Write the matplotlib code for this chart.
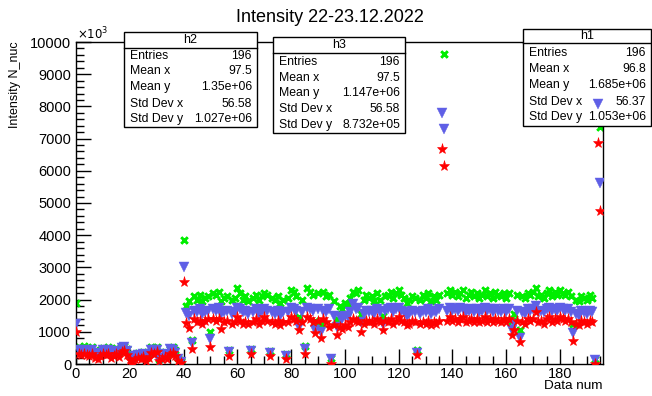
import numpy as np
import matplotlib
matplotlib.use("Agg")
import matplotlib.pyplot as plt
from matplotlib.patches import Rectangle
from matplotlib.lines import Line2D

plt.rcParams['font.family'] = ['Liberation Sans', 'DejaVu Sans']

# 1. Intensity per data point, in units of 10^3 N_nuc
data_num = np.arange(196)

h1_y = [
    1900, 520, 480, 550, 500, 450, 530, 380, 300, 420,
    510, 480, 530, 350, 420, 500, 380, 550, 560, 480,
    250, 40, 300, 350, 280, 380, 200, 320, 520, 500,
    540, 150, 250, 380, 320, 480, 520, 420, 200, 80,
    3850, 1800, 1950, 750, 2100, 2000, 2150, 1950, 2050, 2100,
    1000, 2200, 2150, 2250, 1950, 2050, 2100, 420, 2000, 2050,
    2350, 2200, 2000, 2100, 1950, 480, 2050, 2150, 2000, 2100,
    2200, 2150, 400, 2050, 2000, 2100, 1900, 2000, 300, 2050,
    2300, 2250, 2100, 1450, 2000, 560, 2350, 2250, 2150, 1350,
    2200, 1250, 2250, 2100, 2150, 200, 1950, 1400, 1800, 1700,
    1900, 1850, 2050, 2250, 2200, 2300, 1550, 2000, 2150, 2050,
    2100, 1950, 2200, 2000, 1500, 2100, 2150, 2250, 2050, 2200,
    2300, 2150, 2050, 1900, 2000, 2100, 2050, 420, 2000, 2150,
    2050, 2200, 1950, 2100, 2000, 2150, 10400, 9630, 2200, 2300,
    2150, 2250, 2100, 2200, 2300, 2050, 2150, 2250, 2100, 2200,
    2050, 2150, 2300, 2100, 2200, 2050, 2250, 2150, 2100, 2200,
    2050, 2200, 1350, 1550, 2150, 1050, 2100, 2050, 2200, 2150,
    2250, 2350, 2100, 2150, 2050, 2200, 2300, 2100, 2250, 2150,
    2300, 2200, 2150, 2250, 2100, 1250, 2000, 1950, 2100, 2050,
    2000, 2150, 2050, 150, 10600, 7360,
]

h2_y = [
    1250, 430, 400, 450, 410, 380, 430, 310, 250, 350,
    420, 390, 430, 280, 350, 410, 320, 500, 520, 400,
    200, 30, 250, 290, 230, 320, 160, 270, 450, 430,
    440, 120, 200, 310, 260, 460, 450, 350, 160, 60,
    3000, 1580, 1500, 650, 1650, 1600, 1700, 1550, 1600, 1650,
    780, 1700, 1650, 1750, 1550, 1600, 1650, 370, 1550, 1600,
    1750, 1700, 1600, 1650, 1550, 410, 1600, 1700, 1550, 1650,
    1700, 1650, 330, 1600, 1550, 1650, 1500, 1600, 250, 1600,
    1750, 1700, 1650, 1160, 1600, 460, 1750, 1700, 1650, 1060,
    1700, 1000, 1650, 1600, 1700, 150, 1500, 1150, 1450, 1400,
    1500, 1450, 1600, 1850, 1700, 1750, 1300, 1550, 1650, 1600,
    1650, 1550, 1700, 1600, 1250, 1650, 1700, 1750, 1600, 1700,
    1750, 1650, 1600, 1500, 1550, 1650, 1600, 340, 1550, 1650,
    1600, 1700, 1550, 1650, 1600, 1700, 7790, 7300, 1650, 1750,
    1650, 1700, 1650, 1750, 1700, 1600, 1650, 1700, 1600, 1700,
    1600, 1650, 1750, 1650, 1700, 1600, 1700, 1650, 1600, 1700,
    1600, 1700, 1060, 1250, 1650, 800, 1600, 1550, 1700, 1650,
    1700, 1800, 1600, 1650, 1600, 1700, 1750, 1650, 1700, 1650,
    1750, 1700, 1650, 1700, 1600, 960, 1550, 1500, 1650, 1600,
    1550, 1650, 1600, 110, 8070, 5620,
]

h3_y = [
    1000, 300, 280, 320, 270, 250, 300, 200, 150, 250,
    300, 270, 320, 180, 240, 300, 220, 380, 400, 280,
    130, 10, 170, 200, 150, 230, 100, 180, 330, 300,
    360, 80, 140, 220, 170, 320, 330, 250, 100, 40,
    2550, 1270, 1120, 480, 1400, 1300, 1350, 1250, 1350, 1400,
    540, 1400, 1350, 1400, 1100, 1300, 1350, 250, 1250, 1300,
    1450, 1350, 1250, 1300, 1250, 310, 1300, 1400, 1250, 1350,
    1450, 1350, 250, 1300, 1250, 1350, 1200, 1300, 140, 1300,
    1450, 1400, 1350, 1050, 1300, 310, 1450, 1400, 1300, 950,
    1350, 800, 1400, 1300, 1150, 10, 1200, 900, 1150, 1100,
    1200, 1150, 1300, 1400, 1350, 1300, 1000, 1250, 1350, 1300,
    1350, 1250, 1400, 1300, 1050, 1350, 1300, 1400, 1250, 1350,
    1450, 1350, 1300, 1200, 1250, 1350, 1300, 290, 1250, 1300,
    1250, 1350, 1200, 1300, 1250, 1350, 6680, 6150, 1350, 1450,
    1350, 1400, 1300, 1400, 1450, 1300, 1350, 1400, 1300, 1400,
    1300, 1350, 1450, 1300, 1400, 1300, 1400, 1350, 1300, 1400,
    1300, 1400, 900, 1050, 1350, 690, 1300, 1250, 1400, 1350,
    1400, 1600, 1300, 1350, 1250, 1400, 1450, 1300, 1400, 1350,
    1450, 1400, 1350, 1400, 1300, 720, 1250, 1200, 1350, 1300,
    1250, 1350, 1300, 10, 6860, 4750,
]

# stats box contents
stat_names = ['Entries', 'Mean x', 'Mean y', 'Std Dev x', 'Std Dev y']
h1_stats = ['196', '96.8', '1.685e+06', '56.37', '1.053e+06']
h2_stats = ['196', '97.5', '1.35e+06', '56.58', '1.027e+06']
h3_stats = ['196', '97.5', '1.147e+06', '56.58', '8.732e+05']

# 2. Canvas and frame (pixel layout of a 652x396 canvas)
W, H = 652, 396
fig = plt.figure(figsize=(W / 100, H / 100), dpi=100)
ax = fig.add_axes([76 / W, 1 - 364 / H, (603 - 76) / W, (364 - 42) / H])
ax.set_xlim(0, 196)
ax.set_ylim(0, 10000)

ax.set_xticks(np.arange(0, 181, 20))
ax.set_xticks(np.arange(0, 196, 5), minor=True)
ax.set_yticks(np.arange(0, 10001, 1000))
ax.set_yticks(np.arange(0, 10001, 200), minor=True)
ax.tick_params(which='both', direction='in', top=False, right=False,
               width=1, labelsize=10.5, color='black')
ax.tick_params(which='major', length=11)
ax.tick_params(which='minor', length=6)
ax.tick_params(axis='y', pad=3.5)
ax.tick_params(axis='x', pad=2)
for sp in ax.spines.values():
    sp.set_linewidth(1)

fig.text(330 / W, 1 - 17 / H, 'Intensity 22-23.12.2022', ha='center',
         va='center', fontsize=13)
fig.text(15 / W, 1 - 41 / H, 'Intensity N_nuc', rotation=90, ha='center',
         va='top', fontsize=9)
fig.text(603 / W, 1 - 386 / H, 'Data num', ha='right', va='center',
         fontsize=9.7)
fig.text(77 / W, 1 - 42 / H, r'$\times10^{3}$', ha='left', va='bottom',
         fontsize=8.5)


def stats_box(name, values, x0, x1, y0, y1, y_sep, y_title, rows, z):
    tr = fig.transFigure
    ax.add_patch(Rectangle((x0 / W, 1 - y1 / H), (x1 - x0) / W, (y1 - y0) / H,
                           transform=tr, facecolor='white', edgecolor='black',
                           lw=1, zorder=z, clip_on=False))
    ax.add_line(Line2D([x0 / W, x1 / W], [1 - y_sep / H, 1 - y_sep / H],
                       transform=tr, color='black', lw=1, zorder=z + 0.1,
                       clip_on=False))
    ax.text((x0 + x1) / 2 / W, 1 - y_title / H, name, transform=tr,
            ha='center', va='center', fontsize=9, zorder=z + 0.2,
            clip_on=False)
    for label, val, yy in zip(stat_names, values, rows):
        ax.text((x0 + 6) / W, 1 - yy / H, label, transform=tr, ha='left',
                va='center', fontsize=8.8, zorder=z + 0.2, clip_on=False)
        ax.text((x1 - 5) / W, 1 - yy / H, val, transform=tr, ha='right',
                va='center', fontsize=8.8, zorder=z + 0.2, clip_on=False)


# 3. h1 (green), h2 (blue), h3 (red), each followed by its stats box
ax.plot(data_num, h1_y, ls='none', marker=(4, 2, 45), ms=6.5,
        mec='#00ee00', mfc='#00ee00', mew=1.8, zorder=2)
stats_box('h1', h1_stats, 523, 651, 29, 126, 43, 36, [53, 69, 85, 102, 117], 3)

ax.plot(data_num, h2_y, ls='none', marker='v', ms=7.5,
        mfc='#5f5fe6', mec='#5f5fe6', mew=0.3, zorder=4)
stats_box('h2', h2_stats, 124, 257, 32, 127, 48, 40, [56, 71, 87, 104, 119], 5)

ax.plot(data_num, h3_y, ls='none', marker='*', ms=8,
        mfc='#ff0000', mec='#ff0000', mew=0.4, zorder=6)
stats_box('h3', h3_stats, 273, 405, 37, 133, 53, 45, [62, 78, 93, 109, 125], 7)

plt.savefig('out.png', dpi=100)
